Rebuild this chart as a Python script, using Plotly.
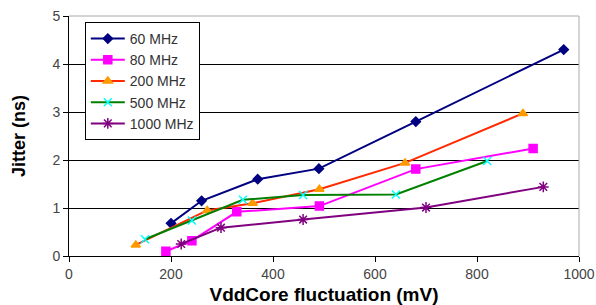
import plotly.graph_objects as go

series_names = ["60 MHz", "80 MHz", "200 MHz", "500 MHz", "1000 MHz"]
x_60 = [200, 260, 370, 490, 680, 970]
y_60 = [0.68, 1.15, 1.60, 1.82, 2.80, 4.30]
x_80 = [190, 241, 329, 491, 680, 910]
y_80 = [0.10, 0.32, 0.92, 1.04, 1.81, 2.24]
x_200 = [131, 271, 360, 491, 659, 890]
y_200 = [0.23, 0.95, 1.10, 1.39, 1.94, 2.97]
x_500 = [149, 241, 341, 459, 641, 820]
y_500 = [0.35, 0.74, 1.17, 1.27, 1.28, 1.98]
x_1000 = [220, 298, 459, 700, 930]
y_1000 = [0.25, 0.59, 0.76, 1.01, 1.44]

x_ticks = [0, 200, 400, 600, 800, 1000]
y_ticks = [0, 1, 2, 3, 4, 5]

styles = [
    dict(line="#000080", marker="#000080", symbol="diamond", size=7),
    dict(line="#FF00FF", marker="#FF00FF", symbol="square", size=8),
    dict(line="#FF2A00", marker="#FF9900", symbol="triangle-up", size=8),
    dict(line="#008000", marker="#00FFFF", symbol="x-thin-open", size=8),
    dict(line="#800080", marker="#800080", symbol="asterisk-open", size=9),
]
xs = [x_60, x_80, x_200, x_500, x_1000]
ys = [y_60, y_80, y_200, y_500, y_1000]

fig = go.Figure()
for name, x, y, st in zip(series_names, xs, ys, styles):
    fig.add_trace(go.Scatter(
        x=x, y=y, mode="lines+markers", name=name, legendgroup=name,
        line=dict(color=st["line"], width=2),
        marker=dict(color=st["marker"], symbol=st["symbol"], size=st["size"],
                    line=dict(color=st["marker"], width=1.5)),
    ))

fig.update_layout(
    width=596, height=305,
    margin=dict(l=69, r=17, t=16, b=49),
    paper_bgcolor="white", plot_bgcolor="white",
    font=dict(family="Arial, Liberation Sans, sans-serif", size=14, color="#444444"),
    showlegend=True,
    legend=dict(x=0.031, y=0.975, xanchor="left", yanchor="top",
                bordercolor="black", borderwidth=1, bgcolor="white",
                font=dict(size=14, color="#333333"), tracegroupgap=0,
                itemwidth=34),
    xaxis=dict(range=[0, 1000], tickvals=x_ticks, ticks="outside", ticklen=5,
               tickcolor="black", showline=True, linecolor="black", linewidth=1,
               mirror=False, showgrid=False, zeroline=False, automargin=False,
               tickfont=dict(size=14, color="#444444"),
               title=dict(text="<b>VddCore fluctuation (mV)</b>",
                          font=dict(size=19, color="black"), standoff=7)),
    yaxis=dict(range=[0, 5], tickvals=y_ticks, ticks="outside", ticklen=5,
               tickcolor="black", showline=True, linecolor="black", linewidth=1,
               showgrid=True, gridcolor="black", gridwidth=1, zeroline=False,
               automargin=False, tickfont=dict(size=14, color="#444444"),
               title=dict(text="<b>Jitter (ns)</b>",
                          font=dict(size=18, color="black"), standoff=22)),
    shapes=[dict(type="line", xref="paper", yref="paper", x0=0, x1=1, y0=1, y1=1,
                 line=dict(color="#aaaaaa", width=1)),
            dict(type="line", xref="paper", yref="paper", x0=1, x1=1, y0=0, y1=1,
                 line=dict(color="#aaaaaa", width=1))],
)

fig.write_html("out.html", config={"displayModeBar": False},
               post_script="document.body.style.margin='0';document.body.style.padding='0';document.body.style.overflow='hidden';")
